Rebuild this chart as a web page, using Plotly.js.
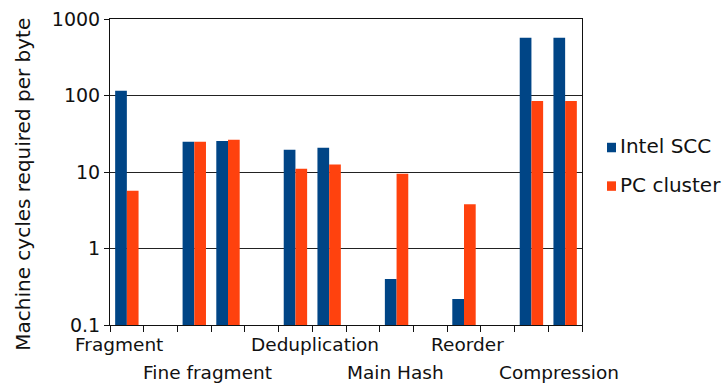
<!DOCTYPE html>
<html>
<head>
<meta charset="utf-8">
<script src="https://cdn.plot.ly/plotly-3.0.1.min.js"></script>
<style>
  html, body { margin: 0; padding: 0; background: #fff; }
  #chart { width: 724px; height: 385px; }
</style>
</head>
<body>
<div id="chart"></div>
<script>
// Machine cycles per byte for each pipeline stage, Intel SCC vs. PC cluster
const slots = [0, 2, 3, 5, 6, 8, 10, 12, 13];
const intelSCC = [115, 24.8, 25.5, 19.5, 20.7, 0.40, 0.218, 570, 570];
const pcCluster = [5.7, 24.8, 26.3, 11.0, 12.5, 9.5, 3.8, 85, 85];

const stages = ["Fragment", "Fine fragment", "Deduplication", "Main Hash", "Reorder", "Compression"];
const stageSlots = [0, 2.5, 5.5, 8, 10, 12.5];

const yTickVals = [0.1, 1, 10, 100, 1000];
const yTickText = ["0.1", "1", "10", "100", "1000"];

const seriesNames = ["Intel SCC", "PC cluster"];
const seriesColors = ["#004586", "#ff420e"];

// Slot boundaries for the category tick marks
const slotCount = 14;
const boundaries = [];
for (let i = 0; i <= slotCount; i++) boundaries.push(i - 0.5);

const FONT = "DejaVu Sans, Verdana, sans-serif";

const traces = [intelSCC, pcCluster].map((vals, i) => ({
  type: "bar",
  x: slots,
  y: vals,
  name: seriesNames[i],
  marker: { color: seriesColors[i], line: { width: 0 } },
  showlegend: false,
  hoverinfo: "x+y+name"
}));

// Stage labels alternate between two rows under the axis
const labelShiftX = [-8, -4, 3, -1, 3, 11];
const annotations = stages.map((s, i) => ({
  text: s,
  x: stageSlots[i],
  xref: "x",
  y: 0,
  yref: "paper",
  xanchor: "center",
  yanchor: "top",
  yshift: i % 2 === 0 ? -7 : -35,
  xshift: labelShiftX[i],
  showarrow: false,
  font: { family: FONT, size: 18.5, color: "#111" }
}));

// Vertical axis title
annotations.push({
  text: "Machine cycles required per byte",
  textangle: -90,
  xref: "paper", yref: "paper",
  x: -0.186, y: 0.459,
  xanchor: "center", yanchor: "middle",
  showarrow: false,
  font: { family: FONT, size: 20, color: "#111" }
});

// Legend drawn beside the plot
const shapes = [];
seriesNames.forEach((n, i) => {
  const yc = 0.580 - i * 0.126;
  shapes.push({
    type: "rect", xref: "paper", yref: "paper",
    x0: 1.053, x1: 1.072, y0: yc - 0.0155, y1: yc + 0.0155,
    fillcolor: seriesColors[i], line: { width: 0 }
  });
  annotations.push({
    text: n, xref: "paper", yref: "paper",
    x: 1.0765, y: yc + 0.004, xanchor: "left", yanchor: "middle",
    showarrow: false,
    font: { family: FONT, size: 20, color: "#111" }
  });
});

const layout = {
  width: 724,
  height: 385,
  margin: { l: 110, r: 142, t: 19, b: 60, pad: 0 },
  paper_bgcolor: "#ffffff",
  plot_bgcolor: "#ffffff",
  barmode: "group",
  bargap: 0.306,
  bargroupgap: 0,
  showlegend: false,
  font: { family: FONT, color: "#111" },
  xaxis: {
    type: "linear",
    range: [-0.5, 13.5],
    tickvals: boundaries,
    showticklabels: false,
    ticks: "outside",
    ticklen: 6,
    tickcolor: "#111",
    showgrid: false,
    zeroline: false,
    showline: true,
    linecolor: "#111",
    linewidth: 1,
    mirror: true
  },
  yaxis: {
    type: "log",
    range: [-1, 3],
    tickvals: yTickVals,
    ticktext: yTickText,
    ticks: "outside",
    ticklen: 5,
    tickcolor: "#111",
    tickfont: { family: FONT, size: 19, color: "#111" },
    showgrid: true,
    gridcolor: "#222",
    gridwidth: 1,
    zeroline: false,
    showline: true,
    linecolor: "#111",
    linewidth: 1,
    mirror: true
  },
  annotations: annotations,
  shapes: shapes
};

Plotly.newPlot("chart", traces, layout, { staticPlot: true, displayModeBar: false });
</script>
</body>
</html>
